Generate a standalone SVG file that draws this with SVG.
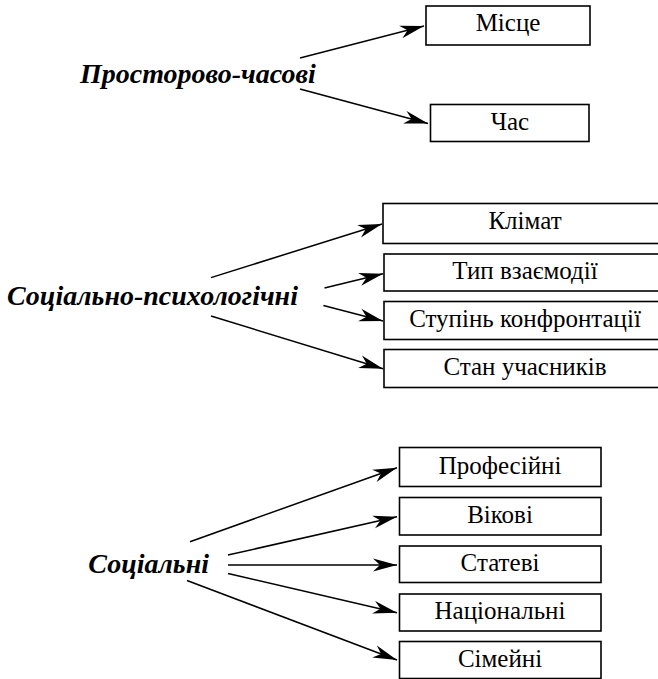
<svg xmlns="http://www.w3.org/2000/svg" width="658" height="679" viewBox="0 0 658 679">
<defs>
<marker id="arr" markerUnits="userSpaceOnUse" markerWidth="25" markerHeight="14" refX="24" refY="7" orient="auto" viewBox="0 0 25 14">
<path d="M0,0.5 L24,7 L0,13.5 L7,7 z" fill="#000"/>
</marker>
<style>
.box{fill:#fff;stroke:#000;stroke-width:1.6}
.t{font-family:"Liberation Serif","Times New Roman",serif;font-size:25px;text-anchor:middle;fill:#000}
.h{font-family:"Liberation Serif","Times New Roman",serif;font-size:28px;font-weight:bold;font-style:italic;fill:#000}
.c line{stroke:#000;stroke-width:1.5;marker-end:url(#arr)}
</style>
</defs>
<rect width="658" height="679" fill="#fff"/>
<g id="hdr-prostorovo"><text class="h" x="80" y="83">Просторово-часові</text></g>
<g id="hdr-socpsy"><text class="h" x="7" y="305">Соціально-психологічні</text></g>
<g id="hdr-social"><text class="h" x="209" y="573" text-anchor="end">Соціальні</text></g>

<g id="n-misce"><rect class="box" x="426" y="6" width="164" height="39"/><text class="t" x="508" y="31">Місце</text></g>
<g id="n-chas"><rect class="box" x="430.5" y="104.5" width="158.5" height="37"/><text class="t" x="510" y="130">Час</text></g>

<g id="n-klimat"><rect class="box" x="383" y="203.5" width="290" height="40"/><text class="t" x="525" y="229">Клімат</text></g>
<g id="n-typ"><rect class="box" x="384" y="254" width="290" height="37"/><text class="t" x="525" y="279">Тип взаємодії</text></g>
<g id="n-stupin"><rect class="box" x="384" y="301.5" width="290" height="38"/><text class="t" x="525" y="327">Ступінь конфронтації</text></g>
<g id="n-stan"><rect class="box" x="384" y="349.5" width="290" height="38"/><text class="t" x="525" y="375">Стан учасників</text></g>

<g id="n-prof"><rect class="box" x="399.5" y="447.5" width="201.5" height="39"/><text class="t" x="500" y="473.5">Професійні</text></g>
<g id="n-vik"><rect class="box" x="399.5" y="497.5" width="201.5" height="37.5"/><text class="t" x="500" y="522.5">Вікові</text></g>
<g id="n-stat"><rect class="box" x="399.5" y="546" width="201.5" height="36.5"/><text class="t" x="500" y="570.5">Статеві</text></g>
<g id="n-nac"><rect class="box" x="399.5" y="594" width="201.5" height="37"/><text class="t" x="500" y="619">Національні</text></g>
<g id="n-sim"><rect class="box" x="399.5" y="641.5" width="201.5" height="37"/><text class="t" x="500" y="666.5">Сімейні</text></g>

<g id="connectors" class="c">
<line x1="300" y1="58" x2="424" y2="26"/>
<line x1="300" y1="89" x2="428" y2="123.5"/>
<line x1="211" y1="277.6" x2="382" y2="224"/>
<line x1="324.5" y1="288" x2="383" y2="273.7"/>
<line x1="323.4" y1="305.4" x2="383" y2="321"/>
<line x1="211" y1="316" x2="383" y2="368.7"/>
<line x1="190" y1="541.7" x2="397" y2="467.7"/>
<line x1="228" y1="555" x2="397" y2="516.7"/>
<line x1="228" y1="565" x2="397" y2="565"/>
<line x1="228" y1="573.5" x2="397" y2="612.7"/>
<line x1="187" y1="580.5" x2="397" y2="660"/>
</g>
</svg>
